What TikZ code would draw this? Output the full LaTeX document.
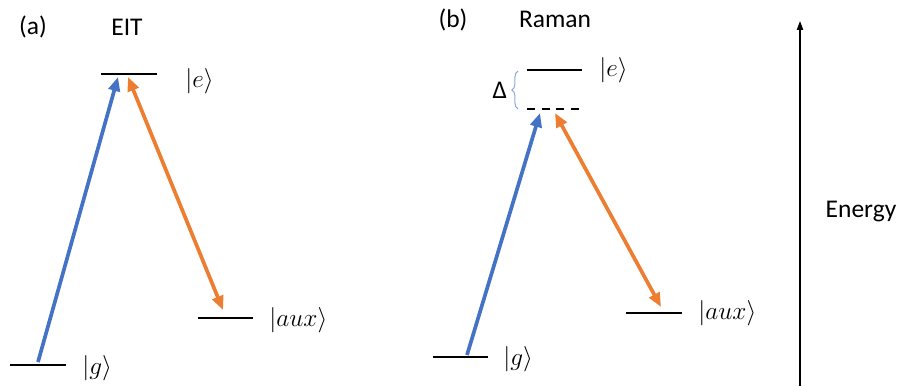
\documentclass[tikz,border=0pt]{standalone}
\usepackage{fontspec}
\setmainfont{Carlito}
\usetikzlibrary{arrows.meta, positioning, decorations.pathreplacing}
\definecolor{pumpblue}{HTML}{4472C4}
\definecolor{coupleorange}{HTML}{ED7D31}
\definecolor{bracegray}{HTML}{8FAADC}

\begin{document}
\begin{tikzpicture}[
  x=0.02cm, y=-0.02cm,
  level/.style={line width=1.1pt},
  virtual/.style={line width=1.1pt, dash pattern=on 4.5pt off 3.8pt},
  ket/.style={font=\fontsize{14.8}{17}\selectfont, inner sep=0pt},
  title/.style={font=\fontsize{14.5}{17}\selectfont, inner sep=0pt},
  pump/.style={-{Triangle[length=8pt, width=6.5pt]}, line width=2.1pt, pumpblue},
  couple/.style={{Triangle[length=8pt, width=6.5pt]}-{Triangle[length=8pt, width=6.5pt]}, line width=2.1pt, coupleorange},
  axis/.style={-{Triangle[length=5pt, width=3.5pt]}, line width=0.75pt}
]
\useasboundingbox (0,0) rectangle (901,386);

% (a) EIT
\node[title] (tag-a) at (33,27) {(a)};
\node[title] (eit) at (127,27) {EIT};

\draw[level] (101,74) coordinate (ea-l) -- (157,74) coordinate (ea-r);
\draw[level] (10,365) coordinate (ga-l) -- (66,365) coordinate (ga-r);
\draw[level] (198,318) coordinate (auxa-l) -- (253,318) coordinate (auxa-r);

\node[ket, right=0.56cm of ea-r, yshift=-4pt] (ea-lbl) {$|e\rangle$};
\node[ket, right=0.32cm of ga-r, yshift=-2pt] (ga-lbl) {$|g\rangle$};
\node[ket, right=0.32cm of auxa-r, yshift=-1pt] (auxa-lbl) {$|aux\rangle$};

\coordinate (pa-lo) at (38,362);
\coordinate (pa-hi) at (118,77);
\coordinate (ca-hi) at (128,77);
\coordinate (ca-lo) at (223,310);
\draw[pump] (pa-lo) -- (pa-hi);
\draw[couple] (ca-hi) -- (ca-lo);

% (b) Raman
\node[title] (tag-b) at (453,20) {(b)};
\node[title] (raman) at (555,19) {Raman};

\draw[level] (527,70) coordinate (eb-l) -- (582,70) coordinate (eb-r);
\draw[virtual] (527,109) coordinate (vb-l) -- (582,109) coordinate (vb-r);
\draw[level] (433,357) coordinate (gb-l) -- (488,357) coordinate (gb-r);
\draw[level] (626,313) coordinate (auxb-l) -- (682,313) coordinate (auxb-r);

\node[ket, right=0.34cm of eb-r] (eb-lbl) {$|e\rangle$};
\node[ket, right=0.3cm of gb-r, yshift=-1pt] (gb-lbl) {$|g\rangle$};
\node[ket, right=0.32cm of auxb-r] (auxb-lbl) {$|aux\rangle$};

\coordinate (br-lo) at (518,109);
\coordinate (br-hi) at (518,71);
\draw[bracegray, line width=0.6pt, decorate, decoration={brace, amplitude=3.5pt}]
  (br-lo) -- (br-hi) coordinate[midway, xshift=-5pt] (br-tip);
\node[title, left=1pt of br-tip] (delta) {Δ};

\coordinate (pb-lo) at (467,355);
\coordinate (pb-hi) at (540,113);
\coordinate (cb-hi) at (555,113);
\coordinate (cb-lo) at (661,307);
\draw[pump] (pb-lo) -- (pb-hi);
\draw[couple] (cb-hi) -- (cb-lo);

% energy axis
\coordinate (en-lo) at (800,386);
\coordinate (en-hi) at (800,21);
\draw[axis] (en-lo) -- (en-hi);
\node[title] (energy) at (861,212) {Energy};

\end{tikzpicture}
\end{document}
